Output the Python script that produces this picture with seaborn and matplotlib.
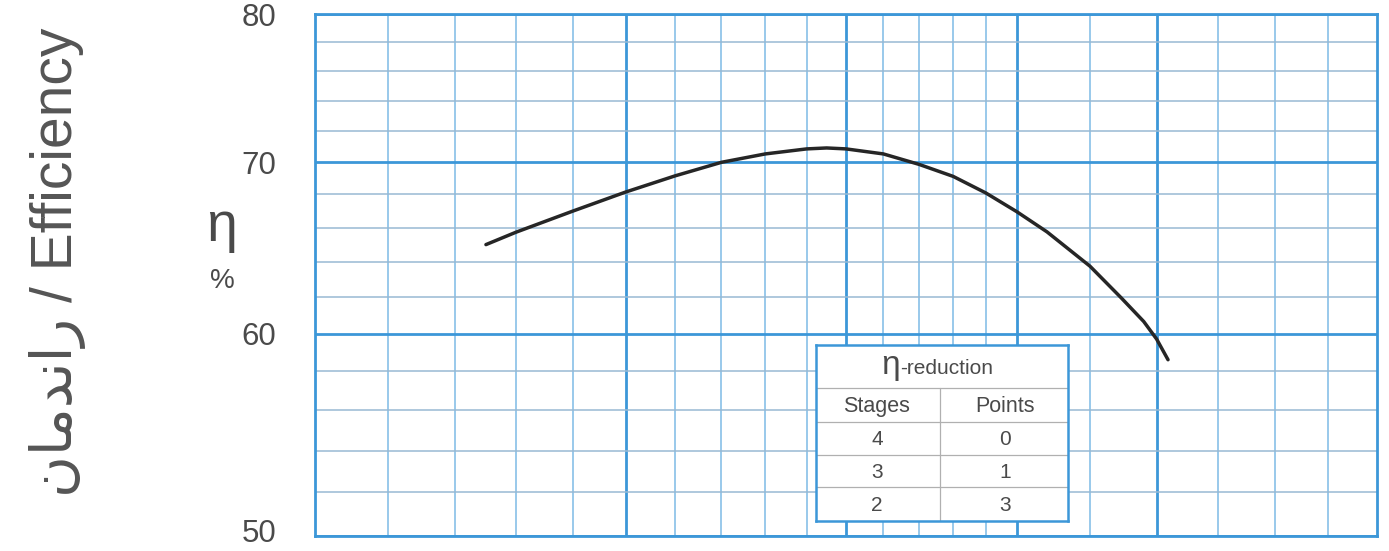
import numpy as np
import pandas as pd
import matplotlib
matplotlib.use("Agg")
import matplotlib.pyplot as plt
from matplotlib.ticker import FixedLocator, NullFormatter, FixedFormatter
from matplotlib.transforms import ScaledTranslation
import seaborn as sns

# ---- data ----
flow = [2.5, 2.6, 2.8, 3.0, 3.2, 3.4, 3.6, 3.8, 3.9, 4.0, 4.2, 4.4, 4.6,
        4.8, 5.0, 5.2, 5.5, 5.73, 5.9, 6.0, 6.09]
efficiency = [65.0, 65.73, 66.99, 68.15, 69.15, 70.0, 70.53, 70.85, 70.91,
              70.85, 70.53, 69.87, 69.12, 68.1, 66.95, 65.75, 63.75,
              61.95, 60.65, 59.7, 58.6]

y_ticks = [50, 60, 70, 80]
y_tick_labels = ["50", "60", "70", "80"]
y_minor = [52, 54, 56, 58, 62, 64, 66, 68, 72, 74, 76, 78]
x_major = [3, 4, 5, 6]
x_minor = [2.2, 2.4, 2.6, 2.8, 3.2, 3.4, 3.6, 3.8, 4.2, 4.4, 4.6, 4.8,
           5.5, 6.5, 7.0, 7.5]

table_title = ("η", "-reduction")
table_header = ["Stages", "Points"]
stages = [4, 3, 2]
points = [0, 1, 3]

y_label = "\uFEE5\uFE8E\uFEE3\uFEAA\uFEE7\uFE8D\uFEAD / Efficiency"

# ---- styling ----
sns.set_theme(style="white")
plt.rcParams["font.family"] = ["Liberation Sans", "DejaVu Sans"]

BLUE = "#3c97d8"
BLUE_MINOR = "#7dbbe6"
GRAY_MINOR = "#98b9d3"
TXT = "#4a4a4a"

W, H = 1389, 551
fig = plt.figure(figsize=(W / 100, H / 100), dpi=100)
fig.patch.set_facecolor("white")

ax = fig.add_axes([315 / W, (H - 536) / H, (1377 - 315) / W, (536 - 14) / H])
ax.set_xscale("log")
ax.set_yscale("log")

df = pd.DataFrame({"flow": flow, "eff": efficiency})
sns.lineplot(data=df, x="flow", y="eff", ax=ax, color="#262626",
             linewidth=2.5, zorder=5)
for ln in ax.lines:
    ln.set_solid_joinstyle("round")
    ln.set_solid_capstyle("round")

ax.set_xlim(2, 8)
ax.set_ylim(50, 80)
ax.xaxis.set_major_locator(FixedLocator(x_major))
ax.xaxis.set_minor_locator(FixedLocator(x_minor))
ax.xaxis.set_major_formatter(NullFormatter())
ax.xaxis.set_minor_formatter(NullFormatter())
ax.yaxis.set_major_locator(FixedLocator(y_ticks))
ax.yaxis.set_major_formatter(FixedFormatter(y_tick_labels))
ax.yaxis.set_minor_locator(FixedLocator(y_minor))
ax.yaxis.set_minor_formatter(NullFormatter())
ax.set_xlabel("")
ax.set_ylabel("")

ax.xaxis.grid(True, which="major", color=BLUE, linewidth=2.0)
ax.yaxis.grid(True, which="major", color=BLUE, linewidth=2.0)
ax.xaxis.grid(True, which="minor", color=BLUE_MINOR, linewidth=1.1)
ax.yaxis.grid(True, which="minor", color=GRAY_MINOR, linewidth=1.1)
ax.set_axisbelow(True)
ax.tick_params(which="both", length=0)
ax.tick_params(axis="y", pad=28, labelsize=22.5, labelcolor=TXT)
for s in ax.spines.values():
    s.set_visible(True)
    s.set_color(BLUE)
    s.set_linewidth(2.0)

# nudge the bottom ("50") and top ("80") labels inside the canvas
major_ticks = ax.yaxis.get_major_ticks()
lab50 = major_ticks[0].label1
lab50.set_transform(lab50.get_transform() +
                    ScaledTranslation(0, 5 / 100, fig.dpi_scale_trans))
lab80 = major_ticks[-1].label1
lab80.set_transform(lab80.get_transform() +
                    ScaledTranslation(0, -1 / 100, fig.dpi_scale_trans))

# y-axis labels
fig.text(58 / W, 1 - 262 / H, y_label, rotation=90, ha="center", va="center",
         fontsize=41, color="#555555")
fig.text(222 / W, 1 - 241 / H, "η", ha="center", va="baseline",
         fontsize=40, color=TXT)
fig.text(222 / W, 1 - 281 / H, "%", ha="center", va="center",
         fontsize=20, color=TXT)

# ---- inset table ----
tl, tr, tt, tb = 816, 1068, 345, 521
tab = fig.add_axes([tl / W, (H - tb) / H, (tr - tl) / W, (tb - tt) / H])
tab.set_xlim(0, 1)
tab.set_ylim(0, 1)
tab.set_facecolor("white")
tab.set_xticks([])
tab.set_yticks([])
for s in tab.spines.values():
    s.set_visible(True)
    s.set_color(BLUE)
    s.set_linewidth(1.8)

def fy(py):
    return (tb - py) / (tb - tt)

def fx(px):
    return (px - tl) / (tr - tl)

row_lines = [388, 422, 455, 487]
for py in row_lines:
    tab.plot([0, 1], [fy(py), fy(py)], color="#b0b0b0", lw=0.9)
tab.plot([fx(940), fx(940)], [0, fy(388)], color="#b0b0b0", lw=0.9)

tab.text(fx(900), fy(374), table_title[0], ha="right", va="baseline",
         fontsize=24, color=TXT)
tab.text(fx(900), fy(374), table_title[1], ha="left", va="baseline",
         fontsize=15, color=TXT)

col_x = [fx(877), fx(1005)]
tab.text(col_x[0], fy(412), table_header[0], ha="center", va="baseline",
         fontsize=15.5, color=TXT)
tab.text(col_x[1], fy(412), table_header[1], ha="center", va="baseline",
         fontsize=15.5, color=TXT)
row_y = [fy(445), fy(478), fy(511)]
for yy, s_, p_ in zip(row_y, stages, points):
    tab.text(col_x[0], yy, str(s_), ha="center", va="baseline", fontsize=15,
             color=TXT)
    tab.text(col_x[1], yy, str(p_), ha="center", va="baseline", fontsize=15,
             color=TXT)

fig.savefig("out.png", dpi=100, facecolor="white")
